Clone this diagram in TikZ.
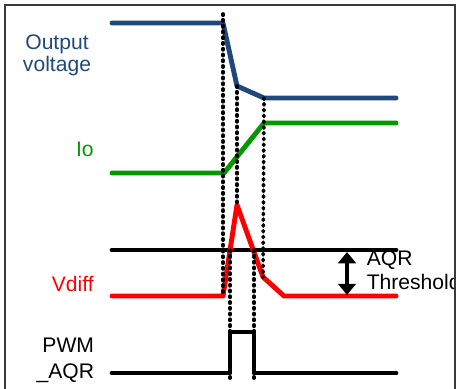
\documentclass[tikz,border=0pt]{standalone}
\usepackage{fontspec}
\setmainfont{Liberation Sans}
\usetikzlibrary{arrows.meta}
\definecolor{wnavy}{HTML}{1F497D}
\definecolor{wgreen}{HTML}{009A00}
\definecolor{wred}{HTML}{FF0000}
\definecolor{wframe}{HTML}{3A3A3A}
\tikzset{
  wave/.style={line width=3.5pt,line cap=round,line join=round},
  dots/.style={line width=2.6pt,line cap=round,dash pattern=on 0.9pt off 3.2pt},
  lbl/.style={font=\fontsize{15}{15.4}\selectfont,inner sep=0pt,align=right},
  darr/.style={{Triangle[width=12.5pt,length=8pt]}-{Triangle[width=12.5pt,length=8pt]},line width=2.3pt},
}
\begin{document}
\begin{tikzpicture}[x=0.025cm,y=-0.025cm]
  \useasboundingbox (0,0) rectangle (457,388);
  % output voltage
  \coordinate (o1) at (223,23); \coordinate (o2) at (237,86); \coordinate (o3) at (264,98);
  \draw[wave,wnavy] (112,23) -- (o1) -- (o2) -- (o3) -- (396,98);
  % io
  \coordinate (i1) at (224,173); \coordinate (i2) at (264,123);
  \draw[wave,wgreen] (112,173) -- (i1) -- (i2) -- (396,123);
  % threshold + vdiff
  \draw[wave,black] (112,250) -- (396,250);
  \coordinate (d1) at (223,296); \coordinate (d2) at (237,205); \coordinate (d3) at (263,277); \coordinate (d4) at (284,296);
  \draw[wave,wred] (112,296) -- (d1) -- (d2) -- (d3) -- (d4) -- (396,296);
  \coordinate (c1) at (230,250); \coordinate (c2) at (254,250);
  % pwm aqr
  \coordinate (p1) at (230,373); \coordinate (p2) at (230,332); \coordinate (p3) at (254,332); \coordinate (p4) at (254,373);
  \draw[wave,black] (112,373) -- (p1) -- (p2) -- (p3) -- (p4) -- (396,373);
  % dotted markers
  \coordinate (top) at (223,14);
  \draw[dots] (top) -- (d1);
  \draw[dots] (o2) -- (d2);
  \draw[dots] (o3) -- (d3);
  \draw[dots] (c1) -- (p1 |- 0,380);
  \draw[dots] (c2) -- (p4 |- 0,380);
  % threshold arrow
  \coordinate (a1) at (347,252); \coordinate (a2) at (347,295);
  \draw[darr] (a1) -- (a2);
  % labels
  \begin{scope}
    \clip (5,5) rectangle (455,388);
    \node[lbl,text=wnavy,align=center] (lout) at (57,55.3) {Output\\voltage};
    \node[lbl,text=wgreen,anchor=base east] (lio) at (94,156.7) {Io};
    \node[lbl,text=wred,anchor=base east] (lvd) at (94,291.7) {Vdiff};
    \node[lbl,anchor=east] (lpwm) at (94.3,360.5) {PWM\\[3.2pt]\_AQR};
    \node[lbl,align=left,anchor=west] (lthr) at (366.5,270.3) {AQR\\[2pt]Threshold};
  \end{scope}
  % frame
  \draw[wframe,line width=1.1pt] (5,392) -- (5,5) -- (455,5) -- (455,392);
\end{tikzpicture}
\end{document}
